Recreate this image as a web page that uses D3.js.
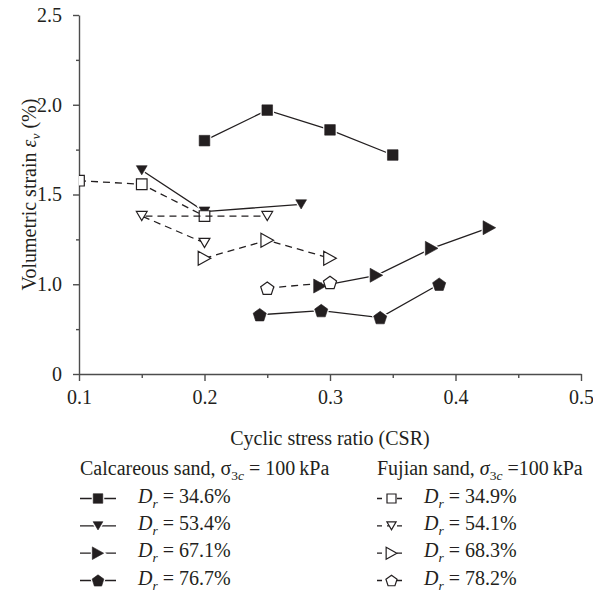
<!DOCTYPE html>
<html>
<head>
<meta charset="utf-8">
<script src="https://cdn.jsdelivr.net/npm/d3@7"></script>
<style>
  html, body { margin: 0; padding: 0; background: #fff; }
  svg { display: block; }
  text { font-family: "Liberation Serif", "DejaVu Serif", serif; fill: #231f20; }
</style>
</head>
<body>
<svg id="chart" width="593" height="593"></svg>
<script>
// Axis ticks
const xTicks = [0.1, 0.2, 0.3, 0.4, 0.5];
const xMinorTicks = [0.15, 0.25, 0.35, 0.45];
const yTicks = [0.5, 1.0, 1.5, 2.0, 2.5];
const yTickLabels = ["0", "1.0", "1.5", "2.0", "2.5"];
const yMinorTicks = [0.75, 1.25, 1.75, 2.25];

// Calcareous sand, sigma_3c = 100 kPa
const calc346CSR = [0.20, 0.25, 0.30, 0.35];
const calc346Strain = [1.80, 1.97, 1.86, 1.72];
const calc534CSR = [0.15, 0.20, 0.277];
const calc534Strain = [1.635, 1.405, 1.445];
const calc671CSR = [0.292, 0.337, 0.381, 0.427];
const calc671Strain = [0.99, 1.05, 1.20, 1.315];
const calc767CSR = [0.244, 0.293, 0.340, 0.387];
const calc767Strain = [0.83, 0.853, 0.814, 1.00];

// Fujian sand, sigma_3c = 100 kPa
const fuj349CSR = [0.10, 0.15, 0.20];
const fuj349Strain = [1.577, 1.557, 1.38];
const fuj541CSR = [0.20, 0.15, 0.25];
const fuj541Strain = [1.23, 1.38, 1.38];
const fuj683CSR = [0.20, 0.25, 0.30];
const fuj683Strain = [1.145, 1.245, 1.145];
const fuj782CSR = [0.25, 0.30];
const fuj782Strain = [0.978, 1.01];

const calcLabels = ["34.6%", "53.4%", "67.1%", "76.7%"];
const fujLabels = ["34.9%", "54.1%", "68.3%", "78.2%"];

const FS = 20;     // main text size
const SUB = 13.5;  // subscript size

// Marker outlines centred on (0,0)
const shapes = {
  square: s => { const h = 5.3 * s; return `M${-h},${-h}h${2*h}v${2*h}h${-2*h}Z`; },
  down: s => { const w = 5.4 * s, h = 4.6 * s; return `M${-w},${-h}L${w},${-h}L0,${h}Z`; },
  right: s => { const w = 6.3 * s, h = 7 * s; return `M${-w},${-h}L${w},0L${-w},${h}Z`; },
  pentagon: s => {
    const r = 6.9 * s;
    const pts = d3.range(5).map(k => {
      const a = (-90 + 72 * k) * Math.PI / 180;
      return [r * Math.cos(a), r * Math.sin(a) + 0.6 * s];
    });
    return "M" + pts.map(p => p.join(",")).join("L") + "Z";
  }
};

const shapeOrder = ["square", "down", "right", "pentagon"];
const calcData = [[calc346CSR, calc346Strain], [calc534CSR, calc534Strain], [calc671CSR, calc671Strain], [calc767CSR, calc767Strain]];
const fujData = [[fuj349CSR, fuj349Strain], [fuj541CSR, fuj541Strain], [fuj683CSR, fuj683Strain], [fuj782CSR, fuj782Strain]];

const series = [];
calcData.forEach((d, i) => series.push({ shape: shapeOrder[i], filled: true, dashed: false,
  pts: d[0].map((c, j) => [c, d[1][j]]) }));
fujData.forEach((d, i) => series.push({ shape: shapeOrder[i], filled: false, dashed: true,
  pts: d[0].map((c, j) => [c, d[1][j]]) }));

const ink = "#231f20";
const axisInk = "#4d4d4d";
const svg = d3.select("#chart");

const x = d3.scaleLinear().domain([0.1, 0.5]).range([79, 581]);
const y = d3.scaleLinear().domain([0.5, 2.5]).range([374, 15]);

// Clip marks to the plot area
svg.append("defs").append("clipPath").attr("id", "plotClip")
  .append("rect").attr("x", x(0.1)).attr("y", 0).attr("width", x(0.5) - x(0.1) + 20).attr("height", y(0.5) + 10);

// Axes
const fmt1 = d3.format(".1f");
const gx = svg.append("g").attr("transform", `translate(0,${y(0.5)})`)
  .call(d3.axisBottom(x).tickValues(xTicks).tickFormat(fmt1).tickSize(7).tickSizeOuter(0).tickPadding(9));
const gxm = svg.append("g").attr("transform", `translate(0,${y(0.5)})`)
  .call(d3.axisBottom(x).tickValues(xMinorTicks).tickFormat("").tickSize(4).tickSizeOuter(0));
const gy = svg.append("g").attr("transform", `translate(${x(0.1)},0)`)
  .call(d3.axisLeft(y).tickValues(yTicks).tickFormat((d, i) => yTickLabels[i]).tickSize(6).tickSizeOuter(0).tickPadding(11));
const gym = svg.append("g").attr("transform", `translate(${x(0.1)},0)`)
  .call(d3.axisLeft(y).tickValues(yMinorTicks).tickFormat("").tickSize(3).tickSizeOuter(0));
gxm.select(".domain").remove();
gym.select(".domain").remove();
[gx, gxm, gy, gym].forEach(g => {
  g.selectAll(".domain, line").attr("stroke", axisInk).attr("stroke-width", 1.4);
  g.selectAll("text").attr("font-size", FS).attr("fill", ink)
    .attr("font-family", '"Liberation Serif", "DejaVu Serif", serif');
});

// Axis titles
svg.append("text").attr("x", (x(0.1) + x(0.5)) / 2).attr("y", 445)
  .attr("text-anchor", "middle").attr("font-size", FS).text("Cyclic stress ratio (CSR)");

const yTitle = svg.append("text")
  .attr("transform", `translate(36,${(y(0.5) + y(2.5)) / 2}) rotate(-90)`)
  .attr("text-anchor", "middle").attr("font-size", FS);
yTitle.append("tspan").text("Volumetric strain ");
yTitle.append("tspan").attr("font-style", "italic").text("ε");
yTitle.append("tspan").attr("font-style", "italic").attr("font-size", SUB).attr("dy", 4).text("v");
yTitle.append("tspan").attr("dy", -4).text(" (%)");

// Data lines and markers
const plot = svg.append("g").attr("clip-path", "url(#plotClip)");
const line = d3.line().x(d => x(d[0])).y(d => y(d[1]));

function drawMarker(g, shape, filled, cx, cy, s) {
  if (filled) {
    g.append("path").attr("d", shapes[shape](s)).attr("transform", `translate(${cx},${cy})`)
      .attr("fill", "#fff").attr("stroke", "#fff").attr("stroke-width", 3);
  }
  g.append("path").attr("d", shapes[shape](s)).attr("transform", `translate(${cx},${cy})`)
    .attr("fill", filled ? ink : "#fff").attr("stroke", ink).attr("stroke-width", filled ? 0.6 : 1.2)
    .attr("stroke-linejoin", "miter");
}

series.forEach(sr => {
  const g = plot.append("g");
  g.append("path").attr("d", line(sr.pts)).attr("fill", "none").attr("stroke", ink)
    .attr("stroke-width", 1.3).attr("stroke-dasharray", sr.dashed ? "7,5" : null);
  sr.pts.forEach(p => drawMarker(g, sr.shape, sr.filled, x(p[0]), y(p[1]), 1));
});

// Legend
function subLabel(t, lbl) {
  t.append("tspan").attr("font-style", "italic").text("D");
  t.append("tspan").attr("font-style", "italic").attr("font-size", SUB).attr("dy", 5).text("r");
  t.append("tspan").attr("dy", -5).text(" = " + lbl);
}

const legendTitleY = 475;
const rowY = [502.5, 529.8, 557.2, 584.5];

const lt = svg.append("text").attr("x", 80).attr("y", legendTitleY).attr("font-size", FS);
lt.append("tspan").text("Calcareous sand, σ");
lt.append("tspan").attr("font-size", SUB).attr("dy", 5).text("3");
lt.append("tspan").attr("font-size", SUB).attr("font-style", "italic").text("c");
lt.append("tspan").attr("dy", -5).text(" = 100\u2009kPa");

const rt = svg.append("text").attr("x", 377).attr("y", legendTitleY).attr("font-size", FS);
rt.append("tspan").text("Fujian sand, ");
rt.append("tspan").attr("font-style", "italic").text("σ");
rt.append("tspan").attr("font-size", SUB).attr("dy", 5).text("3");
rt.append("tspan").attr("font-size", SUB).attr("font-style", "italic").text("c");
rt.append("tspan").attr("dy", -5).text(" =100\u2009kPa");

const legend = svg.append("g");
calcLabels.forEach((lbl, i) => {
  const cy = rowY[i] - 4;
  legend.append("line").attr("x1", 80).attr("x2", 116).attr("y1", cy).attr("y2", cy)
    .attr("stroke", ink).attr("stroke-width", 1.3);
  drawMarker(legend, shapeOrder[i], true, 98, cy, 0.9);
  subLabel(legend.append("text").attr("x", 138).attr("y", rowY[i]).attr("font-size", FS), lbl);
});
fujLabels.forEach((lbl, i) => {
  const cy = rowY[i] - 4;
  legend.append("line").attr("x1", 377).attr("x2", 405).attr("y1", cy).attr("y2", cy)
    .attr("stroke", ink).attr("stroke-width", 1.3).attr("stroke-dasharray", "5,5");
  drawMarker(legend, shapeOrder[i], false, 391.5, cy, 0.85);
  subLabel(legend.append("text").attr("x", 424).attr("y", rowY[i]).attr("font-size", FS), lbl);
});
</script>
</body>
</html>
